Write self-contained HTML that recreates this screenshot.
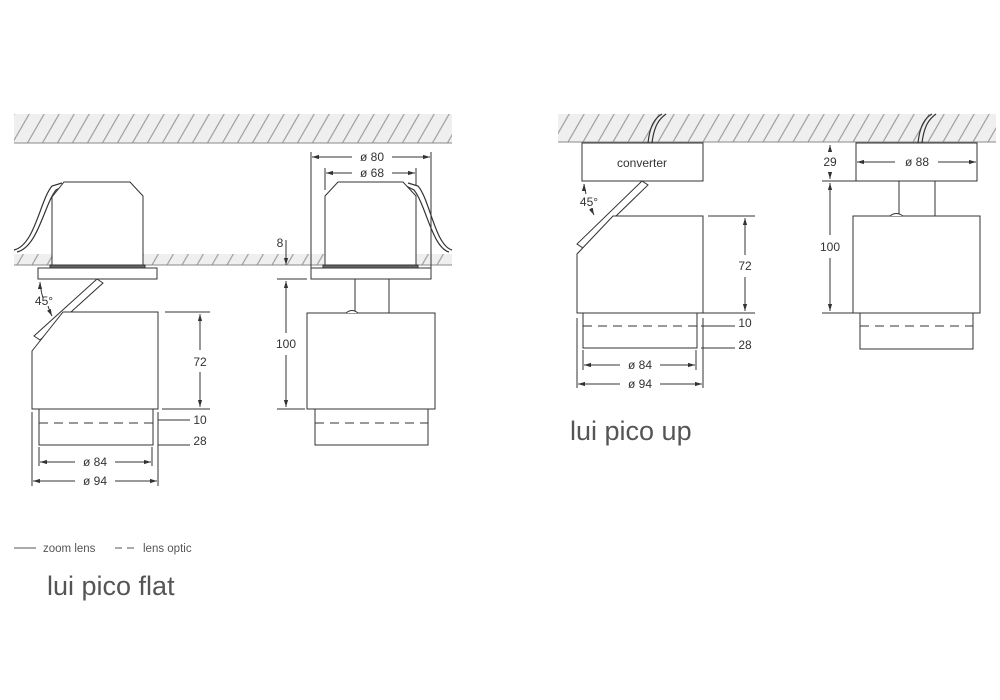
<!DOCTYPE html>
<html><head><meta charset="utf-8"><style>
body{margin:0;background:#fff;}
svg{display:block;font-family:"Liberation Sans",sans-serif;}
</style></head><body>
<svg width="1000" height="700" viewBox="0 0 1000 700" xmlns="http://www.w3.org/2000/svg">
<defs>
<pattern id="h" width="15" height="30" patternUnits="userSpaceOnUse" patternTransform="skewX(-30)">
<rect width="15" height="30" fill="#efefef"/>
<line x1="5" y1="0" x2="5" y2="30" stroke="#9a9a9a" stroke-width="1.3"/>
</pattern>
<marker id="a" viewBox="0 0 10 10" refX="10" refY="5" markerWidth="7" markerHeight="7" orient="auto-start-reverse"><path d="M0,2 L10,5 L0,8 z" fill="#333"/></marker>
</defs>
<g stroke="#333" stroke-width="1" fill="none">
<rect x="14" y="114" width="438" height="29" fill="url(#h)" stroke="none"/>
<line x1="14" y1="143" x2="452" y2="143" stroke="#888"/>
<rect x="14" y="254" width="438" height="11" fill="url(#h)" stroke="none"/>
<line x1="14" y1="265" x2="452" y2="265" stroke="#888"/>
<rect x="558" y="114" width="438" height="28" fill="url(#h)" stroke="none"/>
<line x1="558" y1="142" x2="996" y2="142" stroke="#888"/>

<path d="M14,250 C35,245 40,200 52,186 L62,183 M17,252 C38,247 44,205 56,190 L64,186" stroke-width="1.2"/>
<path d="M52,265 L52,197 L64,182 L130,182 L143,196 L143,265" fill="#fff"/>
<rect x="50" y="265" width="95" height="3" fill="#666"/>
<rect x="38" y="268" width="119" height="11" fill="#fff"/>
<path d="M97,279 L103,283 L40,340 L34,336 Z" fill="#fff"/>
<path d="M63,312 L158,312 L158,409 L32,409 L32,351 Z" fill="#fff"/>
<rect x="39" y="409" width="114" height="36" fill="#fff"/>
<line x1="39" y1="423" x2="153" y2="423" stroke-dasharray="9,6"/>
<path d="M40,282 Q41,292 43,298 M48,306 Q50,312 52,316" marker-end="url(#a)"/>
<path d="M40,282 L40,283" marker-start="url(#a)"/>
<line x1="165" y1="312" x2="210" y2="312"/>
<line x1="162" y1="409" x2="210" y2="409"/>
<line x1="200" y1="314" x2="200" y2="350" marker-start="url(#a)"/>
<line x1="200" y1="372" x2="200" y2="407" marker-end="url(#a)"/>
<line x1="158" y1="420" x2="190" y2="420"/>
<line x1="158" y1="445" x2="190" y2="445"/>
<line x1="39" y1="447" x2="39" y2="466"/>
<line x1="152" y1="447" x2="152" y2="466"/>
<line x1="32" y1="412" x2="32" y2="486"/>
<line x1="158" y1="412" x2="158" y2="486"/>
<line x1="40" y1="462" x2="75" y2="462" marker-start="url(#a)"/>
<line x1="115" y1="462" x2="151" y2="462" marker-end="url(#a)"/>
<line x1="33" y1="481" x2="75" y2="481" marker-start="url(#a)"/>
<line x1="115" y1="481" x2="157" y2="481" marker-end="url(#a)"/>

<path d="M452,250 C435,245 430,200 418,186 L408,183 M449,252 C432,247 426,205 414,190 L406,186" stroke-width="1.2"/>
<path d="M325,265 L325,196 L338,182 L403,182 L416,196 L416,265" fill="#fff"/>
<rect x="323" y="265" width="95" height="3" fill="#666"/>
<rect x="311" y="268" width="120" height="11" fill="#fff"/>
<rect x="355" y="279" width="34" height="34" fill="#fff"/>
<rect x="307" y="313" width="128" height="96" fill="#fff"/>
<path d="M346,313 Q352,308 358,313" fill="#fff"/>
<rect x="315" y="409" width="113" height="36" fill="#fff"/>
<line x1="315" y1="423" x2="428" y2="423" stroke-dasharray="9,6"/>
<line x1="311" y1="152" x2="311" y2="268"/>
<line x1="431" y1="152" x2="431" y2="268"/>
<line x1="325" y1="168" x2="325" y2="190"/>
<line x1="416" y1="168" x2="416" y2="185"/>
<line x1="312" y1="157" x2="352" y2="157" marker-start="url(#a)"/>
<line x1="392" y1="157" x2="430" y2="157" marker-end="url(#a)"/>
<line x1="326" y1="173" x2="352" y2="173" marker-start="url(#a)"/>
<line x1="392" y1="173" x2="415" y2="173" marker-end="url(#a)"/>
<line x1="286" y1="240" x2="286" y2="265" marker-end="url(#a)"/>
<line x1="277" y1="279" x2="307" y2="279"/>
<line x1="277" y1="409" x2="305" y2="409"/>
<line x1="286" y1="281" x2="286" y2="333" marker-start="url(#a)"/>
<line x1="286" y1="355" x2="286" y2="407" marker-end="url(#a)"/>

<path d="M648,143 C650,125 655,118 662,114 M652,143 C654,126 659,119 666,114" stroke-width="1.2"/>
<rect x="582" y="143" width="121" height="38" fill="#fff"/>
<path d="M642,181 L648,185 L583,248 L577,244 Z" fill="#fff"/>
<path d="M613,216 L703,216 L703,313 L577,313 L577,254 Z" fill="#fff"/>
<rect x="583" y="313" width="114" height="35" fill="#fff"/>
<line x1="583" y1="326" x2="697" y2="326" stroke-dasharray="9,6"/>
<path d="M584,184 Q585,190 586,194 M591,208 Q592,211 594,215" marker-end="url(#a)"/>
<path d="M584,184 L584,185" marker-start="url(#a)"/>
<line x1="708" y1="216" x2="755" y2="216"/>
<line x1="700" y1="313" x2="755" y2="313"/>
<line x1="745" y1="218" x2="745" y2="255" marker-start="url(#a)"/>
<line x1="745" y1="277" x2="745" y2="311" marker-end="url(#a)"/>
<line x1="701" y1="326" x2="735" y2="326"/>
<line x1="701" y1="348" x2="735" y2="348"/>
<line x1="583" y1="350" x2="583" y2="370"/>
<line x1="696" y1="350" x2="696" y2="370"/>
<line x1="577" y1="318" x2="577" y2="388"/>
<line x1="703" y1="318" x2="703" y2="388"/>
<line x1="584" y1="365" x2="620" y2="365" marker-start="url(#a)"/>
<line x1="660" y1="365" x2="695" y2="365" marker-end="url(#a)"/>
<line x1="578" y1="384" x2="620" y2="384" marker-start="url(#a)"/>
<line x1="660" y1="384" x2="702" y2="384" marker-end="url(#a)"/>

<path d="M918,143 C920,125 925,118 932,114 M922,143 C924,126 929,119 936,114" stroke-width="1.2"/>
<rect x="856" y="143" width="121" height="38" fill="#fff"/>
<rect x="899" y="181" width="36" height="35" fill="#fff"/>
<rect x="853" y="216" width="127" height="97" fill="#fff"/>
<path d="M890,216 Q896,211 903,216" fill="#fff"/>
<rect x="860" y="313" width="113" height="36" fill="#fff"/>
<line x1="860" y1="326" x2="973" y2="326" stroke-dasharray="9,6"/>
<line x1="822" y1="181" x2="856" y2="181"/>
<line x1="822" y1="313" x2="853" y2="313"/>
<line x1="830" y1="145" x2="830" y2="151" marker-start="url(#a)"/>
<line x1="830" y1="173" x2="830" y2="179" marker-end="url(#a)"/>
<line x1="830" y1="183" x2="830" y2="235" marker-start="url(#a)"/>
<line x1="830" y1="258" x2="830" y2="311" marker-end="url(#a)"/>
<line x1="857" y1="162" x2="895" y2="162" marker-start="url(#a)"/>
<line x1="938" y1="162" x2="976" y2="162" marker-end="url(#a)"/>

<line x1="14" y1="548" x2="36" y2="548" stroke="#555"/>
<line x1="115" y1="548" x2="136" y2="548" stroke="#555" stroke-dasharray="7,5"/>
</g>
<g fill="#333" font-size="12" text-anchor="middle">
<text x="200" y="366">72</text>
<text x="200" y="424">10</text>
<text x="200" y="445">28</text>
<text x="95" y="466">ø 84</text>
<text x="95" y="485">ø 94</text>
<text x="44" y="305">45°</text>
<text x="372" y="161">ø 80</text>
<text x="372" y="177">ø 68</text>
<text x="280" y="247">8</text>
<text x="286" y="348">100</text>
<text x="642" y="167">converter</text>
<text x="589" y="206">45°</text>
<text x="745" y="270">72</text>
<text x="745" y="327">10</text>
<text x="745" y="349">28</text>
<text x="640" y="369">ø 84</text>
<text x="640" y="388">ø 94</text>
<text x="830" y="166">29</text>
<text x="830" y="251">100</text>
<text x="917" y="166">ø 88</text>
</g>
<g fill="#555">
<text x="43" y="552" font-size="11.5">zoom lens</text>
<text x="143" y="552" font-size="11.5">lens optic</text>
<text x="47" y="595" font-size="27">lui pico flat</text>
<text x="570" y="440" font-size="27">lui pico up</text>
</g>
</svg>
</body></html>
